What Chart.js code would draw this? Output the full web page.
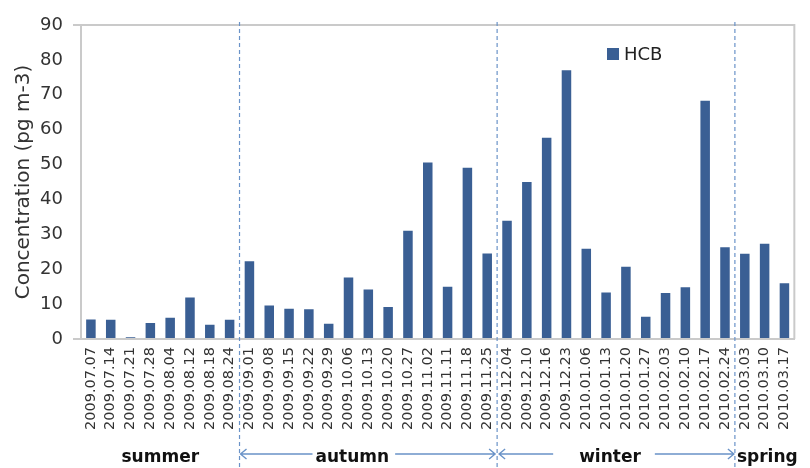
<!DOCTYPE html>
<html lang="en">
<head>
    <meta charset="UTF-8">
    <title>HCB concentration</title>
    <style>
        body { margin: 0; background: #ffffff; }
        .wrap { width: 810px; height: 468px; }
    </style>
</head>
<body>
<div class="wrap"><canvas id="chart1" width="810" height="468"></canvas></div>

<script src="https://cdn.jsdelivr.net/npm/chart.js"></script>
<script>
    const dates = [
        '2009.07.07', '2009.07.14', '2009.07.21', '2009.07.28', '2009.08.04', '2009.08.12', '2009.08.18', '2009.08.24',
        '2009.09.01', '2009.09.08', '2009.09.15', '2009.09.22', '2009.09.29', '2009.10.06', '2009.10.13', '2009.10.20',
        '2009.10.27', '2009.11.02', '2009.11.11', '2009.11.18', '2009.11.25',
        '2009.12.04', '2009.12.10', '2009.12.16', '2009.12.23', '2010.01.06', '2010.01.13', '2010.01.20', '2010.01.27',
        '2010.02.03', '2010.02.10', '2010.02.17', '2010.02.24',
        '2010.03.03', '2010.03.10', '2010.03.17'
    ];
    const hcb = [
        5.6, 5.5, 0.5, 4.6, 6.1, 11.9, 4.1, 5.5,
        22.3, 9.6, 8.7, 8.5, 4.4, 17.6, 14.2, 9.2,
        31.0, 50.6, 15.0, 49.1, 24.5,
        33.9, 45.0, 57.7, 77.0, 25.9, 13.3, 20.7, 6.4,
        13.2, 14.8, 68.3, 26.3,
        24.4, 27.3, 16.0
    ];
    const seasons = ['summer', 'autumn', 'winter', 'spring'];
    const seasonStart = [0, 8, 21, 33];   // index of first date in each season

    const lineBlue = '#6a93c8';
    const frameGray = '#cacaca';

    function arrow(ctx, x1, x2, y, headLeft, headRight) {
        ctx.beginPath();
        ctx.moveTo(x1, y);
        ctx.lineTo(x2, y);
        if (headLeft) {
            ctx.moveTo(x1 + 6, y - 5); ctx.lineTo(x1, y); ctx.lineTo(x1 + 6, y + 5);
        }
        if (headRight) {
            ctx.moveTo(x2 - 6, y - 5); ctx.lineTo(x2, y); ctx.lineTo(x2 - 6, y + 5);
        }
        ctx.stroke();
    }

    const seasonPlugin = {
        id: 'seasons',
        afterDraw(chart) {
            const ctx = chart.ctx;
            const x = chart.scales.x;
            const area = chart.chartArea;
            ctx.save();

            // right frame line
            ctx.strokeStyle = frameGray;
            ctx.lineWidth = 2;
            ctx.beginPath();
            ctx.moveTo(area.right, area.top - 1);
            ctx.lineTo(area.right, area.bottom);
            ctx.stroke();

            // dashed season boundaries
            const bounds = seasonStart.slice(1).map(i => x.getPixelForValue(i - 0.5));
            ctx.strokeStyle = lineBlue;
            ctx.lineWidth = 1.2;
            ctx.setLineDash([4, 3]);
            bounds.forEach(bx => {
                ctx.beginPath();
                ctx.moveTo(bx, area.top - 3);
                ctx.lineTo(bx, chart.height);
                ctx.stroke();
            });
            ctx.setLineDash([]);

            // season names
            const y = 458;
            ctx.font = 'bold 17px "DejaVu Sans"';
            ctx.fillStyle = '#111111';
            ctx.textAlign = 'center';
            ctx.textBaseline = 'middle';
            const shift = [0, -16, -6, 0];
            seasons.forEach((name, k) => {
                const first = seasonStart[k];
                const last = k + 1 < seasonStart.length ? seasonStart[k + 1] - 1 : dates.length - 1;
                const w = ctx.measureText(name).width;
                let cx = x.getPixelForValue((first + last) / 2) + shift[k];
                if (k === seasons.length - 1) cx = bounds[2] + 2 + w / 2;
                ctx.fillText(name, cx, y);
                ctx.strokeStyle = lineBlue;
                ctx.lineWidth = 1.4;
                if (name === 'autumn') {
                    arrow(ctx, bounds[0] + 1, cx - w / 2 - 3, y - 4, true, false);
                    arrow(ctx, cx + w / 2 + 6, bounds[1] - 2, y - 4, false, true);
                }
                if (name === 'winter') {
                    arrow(ctx, bounds[1] + 2, cx - w / 2 - 26, y - 4, true, false);
                    arrow(ctx, cx + w / 2 + 14, bounds[2] - 1, y - 4, false, true);
                }
            });

            // legend
            const ds = chart.data.datasets[0];
            ctx.fillStyle = ds.backgroundColor;
            ctx.fillRect(607, 48, 12, 12);
            ctx.fillStyle = '#222222';
            ctx.font = '18px "DejaVu Sans"';
            ctx.textAlign = 'left';
            ctx.fillText(ds.label, 624, 55);
            ctx.restore();
        }
    };

    new Chart(document.getElementById('chart1'), {
        type: 'bar',
        data: {
            labels: dates,
            datasets: [{
                label: 'HCB',
                data: hcb,
                backgroundColor: '#3a5f94',
                categoryPercentage: 1.0,
                barPercentage: 0.48
            }]
        },
        options: {
            responsive: false,
            animation: false,
            layout: { padding: { top: 25, right: 12, bottom: 0, left: 0 } },
            plugins: {
                legend: { display: false },
                tooltip: { enabled: false }
            },
            scales: {
                x: {
                    afterFit: s => { s.height = 129; },
                    grid: { display: false, drawTicks: false },
                    border: { display: true, color: frameGray, width: 2 },
                    ticks: {
                        autoSkip: false,
                        minRotation: 90,
                        maxRotation: 90,
                        padding: 8,
                        color: '#333333',
                        font: { family: 'DejaVu Sans', size: 14.5 }
                    }
                },
                y: {
                    min: 0,
                    max: 90,
                    afterFit: s => { s.width = 81; },
                    grid: {
                        color: c => (c.tick && (c.tick.value === 90 || c.tick.value === 0)) ? frameGray : 'rgba(0,0,0,0)',
                        lineWidth: 2,
                        tickLength: 8
                    },
                    border: { display: true, color: frameGray, width: 2 },
                    ticks: {
                        stepSize: 10,
                        padding: 10,
                        color: '#333333',
                        font: { family: 'DejaVu Sans', size: 18 }
                    },
                    title: {
                        display: true,
                        text: 'Concentration (pg m-3)',
                        color: '#333333',
                        padding: { top: 12, bottom: 0 },
                        font: { family: 'DejaVu Sans', size: 20 }
                    }
                }
            }
        },
        plugins: [seasonPlugin]
    });
</script>
</body>
</html>
